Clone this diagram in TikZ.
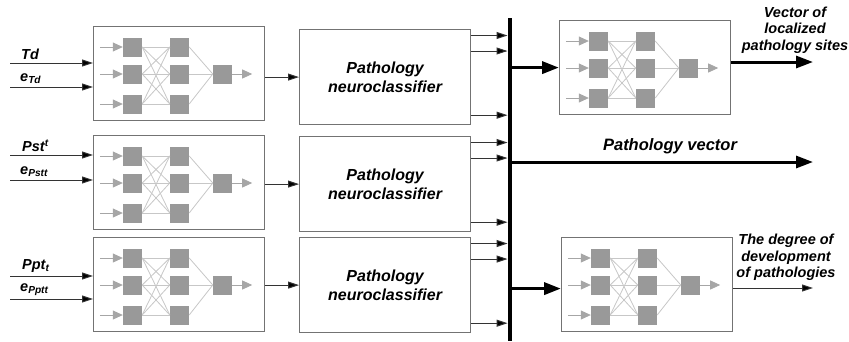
\documentclass[tikz,border=0pt]{standalone}
\usepackage{fontspec}
\setmainfont{Liberation Sans}
\usetikzlibrary{arrows.meta, positioning}
\tikzset{
  netbox/.style = {draw=black!55, line width=1.2pt, minimum width=171pt,
                   minimum height=94pt, inner sep=0pt},
  classifier/.style = {netbox, minimum height=95pt, align=center,
                       font=\fontsize{16}{19}\selectfont\bfseries\itshape},
  neuron/.style = {fill=black!40, minimum size=19pt, inner sep=0pt},
  synapse/.style = {black!22, line width=0.8pt},
  axon/.style = {black!35, line width=0.8pt,
                 arrows={-Triangle[length=10pt, width=9pt]}},
  link/.style = {black!80, line width=1pt,
                 arrows={-Triangle[length=11pt, width=7pt, fill=black]}},
  bus link/.style = {line width=3.5pt,
                     arrows={-Triangle[length=17pt, width=12pt]}},
  bus/.style = {fill=black, minimum width=4.5pt, minimum height=323pt,
                inner sep=0pt},
  in label/.style = {inner sep=0pt,
                     font=\fontsize{14.5}{17}\selectfont\bfseries\itshape},
  out label/.style = {align=center, inner sep=0pt,
                      font=\fontsize{14.5}{16.5}\selectfont\bfseries\itshape},
}
\newcommand{\neuralnet}[2]{%
  %% Draw a small feed-forward network in a box
  %% Arguments:
  %%    1. Name prefix
  %%    2. North west corner of the box
  \node [netbox, anchor=north west] (#1) at (#2) {};
  \foreach \n/\dy in {1/21, 2/48, 3/78}{%
    \node [neuron] (#1_a\n) at ([shift={(39.5,\dy)}] #1.north west) {};
    \node [neuron] (#1_b\n) at ([shift={(86.5,\dy)}] #1.north west) {};
    \coordinate (#1_in\n) at ([xshift=-23pt] #1_a\n.west);
    \draw [axon] (#1_in\n) -- (#1_a\n.west);
  }
  \node [neuron] (#1_c) at ([shift={(129.5,48)}] #1.north west) {};

  %% Connect the layers
  \foreach \i in {1,2,3}{%
    \foreach \j in {1,2,3}{%
      \draw [synapse] (#1_a\i.east) -- (#1_b\j.west);
    }
    \draw [synapse] (#1_b\i.east) -- (#1_c.west);
  }
  \coordinate (#1_out) at ([xshift=20pt] #1_c.east);
  \draw [axon] (#1_c.east) -- (#1_out);
}

\begin{document}
\begin{tikzpicture}[x=1pt, y=-1pt]
  \useasboundingbox (0,0) rectangle (849,341);

  %% The three input networks
  \neuralnet{net1}{93,26}
  \neuralnet{net2}{93,135}
  \neuralnet{net3}{93,237}

  %% Inputs and their labels
  \coordinate (td_in) at (10,63);
  \coordinate (etd_in) at (10,87);
  \coordinate (pst_in) at (10,155);
  \coordinate (epst_in) at (10,180);
  \coordinate (ppt_in) at (10,276);
  \coordinate (eppt_in) at (10,299);
  \foreach \c/\t in {td_in/net1, etd_in/net1, pst_in/net2, epst_in/net2,
                     ppt_in/net3, eppt_in/net3}{%
    \draw [link] (\c) -- (\c -| \t.west);
  }
  \node [in label, above right=3pt and 11pt of td_in] (td_lbl) {Td};
  \node [in label, above right=3pt and 10pt of etd_in] (etd_lbl)
        {e\textsubscript{Td}};
  \node [in label, above right=3pt and 12pt of pst_in] (pst_lbl)
        {Pst\textsuperscript{t}};
  \node [in label, above right=3pt and 10pt of epst_in] (epst_lbl)
        {e\textsubscript{Pstt}};
  \node [in label, above right=3pt and 12pt of ppt_in] (ppt_lbl)
        {Ppt\textsubscript{t}};
  \node [in label, above right=3pt and 10pt of eppt_in] (eppt_lbl)
        {e\textsubscript{Pptt}};

  %% Classifiers
  \node [classifier, anchor=north west] (nc1) at (299,29)
        {Pathology\\neuroclassifier};
  \node [classifier, anchor=north west] (nc2) at (299,136)
        {Pathology\\neuroclassifier};
  \node [classifier, anchor=north west] (nc3) at (299,237)
        {Pathology\\neuroclassifier};
  \foreach \k in {1,2,3}{%
    \draw [link] (net\k.east |- nc\k) -- (nc\k.west);
  }

  %% The bus
  \node [bus, anchor=north] (bus) at (510,18) {};
  \foreach \k in {1,2,3}{%
    \draw [link] ([yshift=-6.5pt] nc\k.north east)
      -- ([yshift=-6.5pt] nc\k.north east -| bus.west);
    \draw [link] ([yshift=-22pt] nc\k.north east)
      -- ([yshift=-22pt] nc\k.north east -| bus.west);
    \draw [link] ([yshift=10pt] nc\k.south east)
      -- ([yshift=10pt] nc\k.south east -| bus.west);
  }

  %% Output networks
  \neuralnet{sites}{559,20}
  \neuralnet{degree}{561,237}
  \draw [bus link] (bus.east |- sites.west) -- (sites.west);
  \draw [bus link] ([yshift=-4pt] bus.east |- degree.west)
    -- ([yshift=-4pt] degree.west);

  %% Pathology vector
  \coordinate (pv_end) at (813,162);
  \draw [bus link, line width=3pt] (bus.east |- pv_end) -- (pv_end);
  \node [out label, font=\fontsize{16.5}{19}\selectfont\bfseries\itshape]
        (pv_lbl) at (670,146) {Pathology vector};

  %% Outputs
  \coordinate (sites_end) at (813,62);
  \draw [bus link, line width=3pt] (sites_end -| sites.east) -- (sites_end);
  \node [out label] (sites_lbl) at (795,30)
        {Vector of\\localized\\pathology sites};
  \coordinate (degree_end) at (813,288);
  \draw [link] (degree_end -| degree.east) -- (degree_end);
  \node [out label] (degree_lbl) at (786,257.5)
        {The degree of\\development\\of pathologies};
\end{tikzpicture}
\end{document}
